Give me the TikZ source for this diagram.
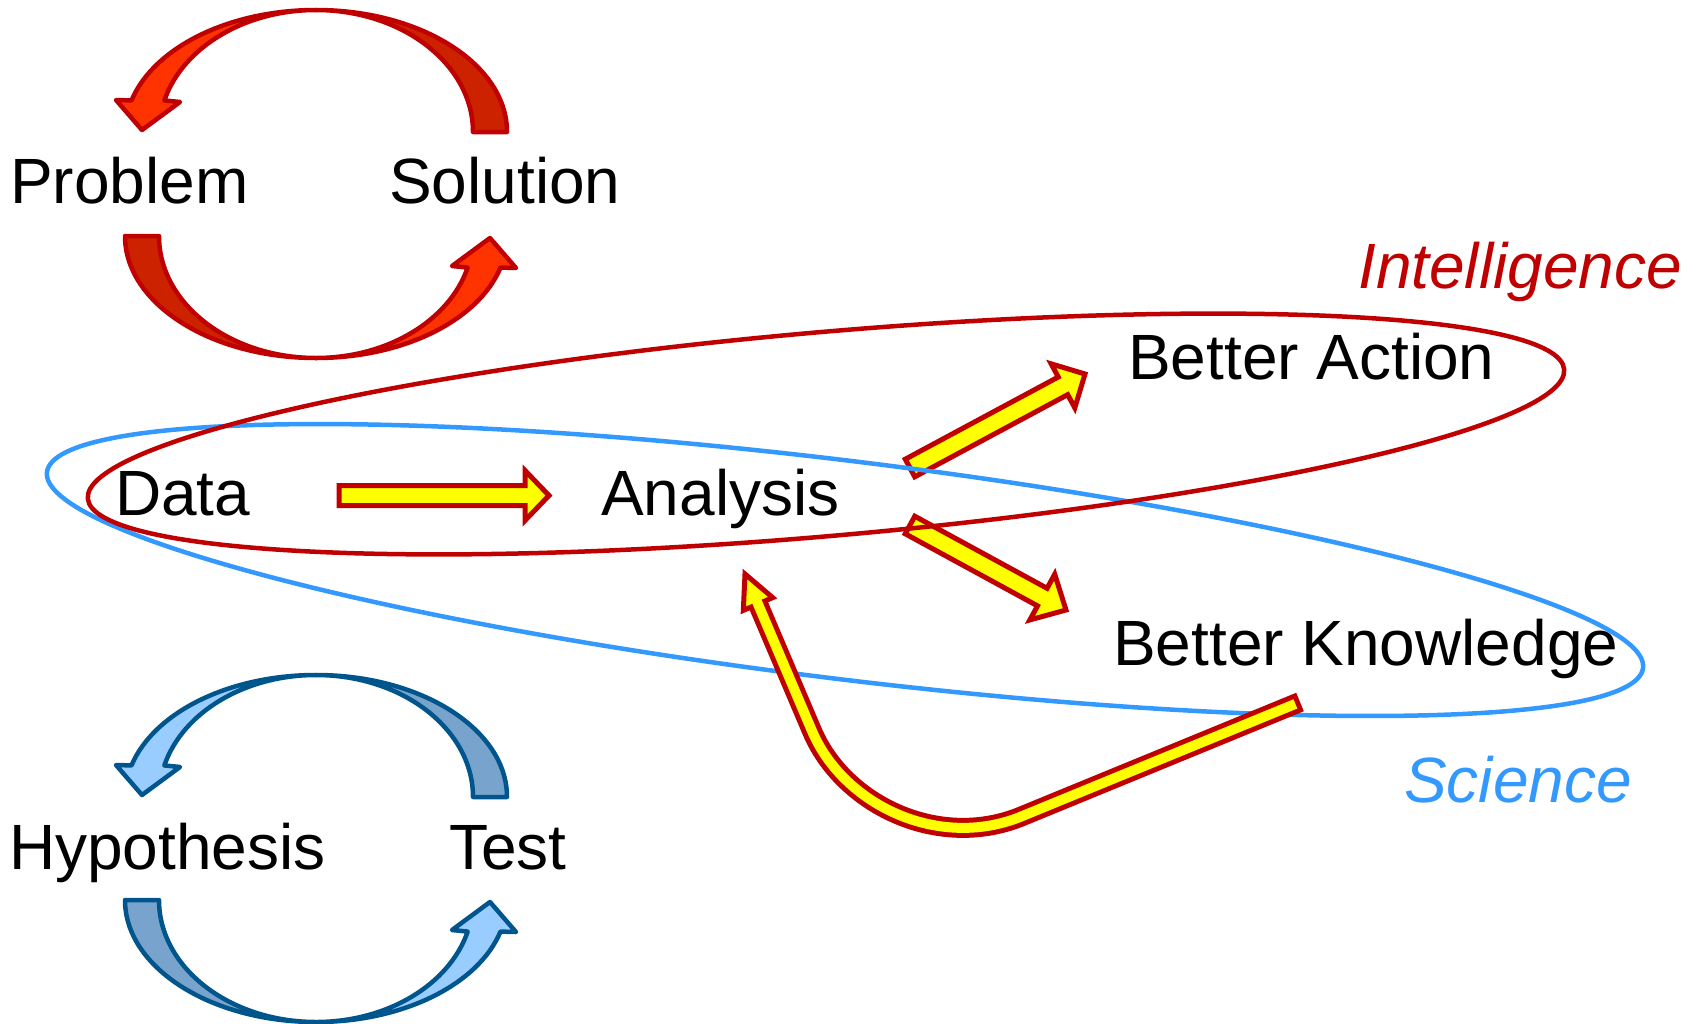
\documentclass[tikz,border=0pt]{standalone}
\usepackage{fontspec}
\setmainfont{Liberation Sans}
\usetikzlibrary{calc}
\definecolor{dred}{HTML}{C00000}
\definecolor{rdark}{HTML}{CC2200}
\definecolor{rlight}{HTML}{FF3300}
\definecolor{bline}{HTML}{00558C}
\definecolor{bdark}{HTML}{77A3CC}
\definecolor{blight}{HTML}{99CCFF}
\definecolor{sciblue}{HTML}{3399FF}
\definecolor{yel}{HTML}{FFFF00}
\newcommand\halfcycle[3]{%
  \filldraw[fill=#1,draw=#3,line width=4.5pt,line join=round] (191,0) arc[start angle=0,end angle=90,x radius=191pt,y radius=122pt] arc[start angle=90,end angle=0,x radius=157pt,y radius=122pt] -- cycle;
  \filldraw[fill=#2,draw=#3,line width=4.5pt,line join=round] (0,-122) arc[start angle=90,end angle=165,x radius=191pt,y radius=122pt] -- (-200,-32) -- (-174,-2) -- (-136,-30) -- (-151.65,-31.58) arc[start angle=165,end angle=90,x radius=157pt,y radius=122pt] -- cycle;
}
\newcommand\blockarrow[5]{%
  \coordinate (bh) at ($(#2)!#5!(#1)$);
  \filldraw[yarrow] ($(#1)!#3!90:(#2)$) -- ($(bh)!#3!-90:(#1)$) -- ($(bh)!#4!-90:(#1)$) -- (#2) -- ($(bh)!#4!90:(#1)$) -- ($(bh)!#3!90:(#1)$) -- ($(#1)!#3!-90:(#2)$) -- cycle;
}
\tikzset{
  lbl/.style={anchor=base west, inner sep=0pt, font=\fontsize{64}{77}\selectfont},
  yarrow/.style={fill=yel, draw=dred, line width=5pt, line join=miter},
  ring/.style={line width=4.5pt}
}
\begin{document}
\begin{tikzpicture}[x=1pt,y=-1pt]
\useasboundingbox (0,0) rectangle (1695,1023);
% cycle arrows
\begin{scope}[shift={(316,132)}]\halfcycle{rdark}{rlight}{dred}\end{scope}
\begin{scope}[shift={(316,236)},rotate=180]\halfcycle{rdark}{rlight}{dred}\end{scope}
\begin{scope}[shift={(316,797)}]\halfcycle{bdark}{blight}{bline}\end{scope}
\begin{scope}[shift={(316,900)},rotate=180]\halfcycle{bdark}{blight}{bline}\end{scope}
% text
\node[lbl] (problem) at (10,203) {Problem};
\node[lbl] (solution) at (389,203) {Solution};
\node[lbl] (hyp) at (9,869) {Hypothesis};
\node[lbl] (test) at (449,869) {Test};
\node[lbl] (data) at (115,515) {Data};
\node[lbl] (analysis) at (601,515) {Analysis};
\node[lbl] (action) at (1128,379) {Better Action};
\node[lbl] (knowledge) at (1113,665) {Better Knowledge};
\node[lbl, text=dred, font=\fontsize{64}{77}\selectfont\itshape] (intel) at (1358,288) {Intelligence};
\node[lbl, text=sciblue, font=\fontsize{64}{77}\selectfont\itshape] (sci) at (1404,802) {Science};
% straight block arrows
\coordinate (a1s) at (339,495.5); \coordinate (a1e) at (549,495.5);
\coordinate (a2s) at (910,468); \coordinate (a2e) at (1085,374);
\coordinate (a3s) at (910,525); \coordinate (a3e) at (1066,610);
\blockarrow{a1s}{a1e}{10pt}{25pt}{24pt}
\blockarrow{a2s}{a2e}{10pt}{25pt}{25pt}
\blockarrow{a3s}{a3e}{10pt}{26pt}{27pt}
% ellipses
\coordinate (sc) at (845,570);
\coordinate (ic) at (826,434);
\draw[ring, sciblue, rotate around={-7:(sc)}] (sc) ellipse[x radius=804pt, y radius=109pt];
\draw[ring, dred, rotate around={5:(ic)}] (ic) ellipse[x radius=741pt, y radius=102pt];
% curved feedback arrow
\coordinate (k0) at (1300,702);
\coordinate (kh) at (758,604);
\coordinate (kt) at (745,574);
\coordinate (ke) at ($(kh)!6pt!(kt)$);
\draw[dred, line width=20pt] (k0) -- (1020,817) .. controls (937,850) and (843,804) .. (812,731) -- (ke);
\filldraw[yarrow] ($(kh)!16pt!90:(kt)$) -- (kt) -- ($(kh)!16pt!-90:(kt)$) -- cycle;
\draw[yel, line width=10pt, shorten <=5pt] (k0) -- (1020,817) .. controls (937,850) and (843,804) .. (812,731) -- (ke);
\end{tikzpicture}
\end{document}
